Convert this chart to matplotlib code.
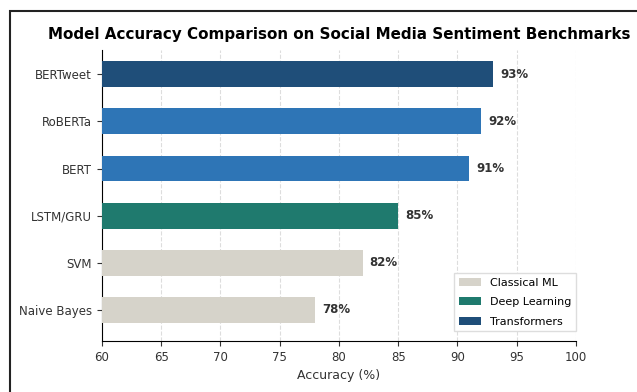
import matplotlib
matplotlib.use("Agg")
import matplotlib.pyplot as plt
from matplotlib.patches import Patch, Rectangle

# ------------------------------------------------------------
# Data
# ------------------------------------------------------------

models = ["BERTweet", "RoBERTa", "BERT", "LSTM/GRU", "SVM", "Naive Bayes"]
accuracy = [93, 92, 91, 85, 82, 78]
bar_colors = ["#1f4e79", "#2e75b6", "#2e75b6", "#1f7a6e", "#d6d3ca", "#d6d3ca"]

legend_labels = ["Classical ML", "Deep Learning", "Transformers"]
legend_colors = ["#d6d3ca", "#1f7a6e", "#1f4e79"]

xticks = [60, 65, 70, 75, 80, 85, 90, 95, 100]

# ------------------------------------------------------------
# Plot
# ------------------------------------------------------------

fig = plt.figure(figsize=(6.37, 3.92), dpi=100)
ax = fig.add_axes([0.160, 0.130, 0.744, 0.742])

ypos = list(range(len(models)))
ax.barh(ypos, accuracy, height=0.55, color=bar_colors, zorder=3)

for y, v in zip(ypos, accuracy):
    ax.text(v + 0.6, y, f"{v}%", va="center", ha="left",
            fontsize=8.5, fontweight="bold", color="#333333")

ax.set_yticks(ypos)
ax.set_yticklabels(models)
ax.set_ylim(5.66, -0.51)
ax.set_xlim(60, 100)
ax.set_xticks(xticks)

ax.tick_params(labelsize=8.5, colors="#333333")
ax.set_xlabel("Accuracy (%)", fontsize=9, color="#333333")
ax.set_title("Model Accuracy Comparison on Social Media Sentiment Benchmarks",
             fontsize=10.9, fontweight="bold", pad=8)

ax.grid(axis="x", linestyle="--", color="#dddddd", linewidth=0.8, zorder=0)
ax.spines["top"].set_visible(False)
ax.spines["right"].set_visible(False)

handles = [Patch(facecolor=c, label=l) for c, l in zip(legend_colors, legend_labels)]
ax.legend(handles=handles, loc="lower right", bbox_to_anchor=(1.0, 0.034),
          borderaxespad=0, fontsize=8, labelspacing=0.85, framealpha=1,
          edgecolor="#dddddd", fancybox=False)

# outer frame of the screenshot
fig.add_artist(Rectangle((10 / 637, -0.05), 1.2, 1 - 11 / 392 + 0.05,
                         transform=fig.transFigure, fill=False,
                         edgecolor="#222222", linewidth=1.5))

fig.savefig("out.png", dpi=100)
